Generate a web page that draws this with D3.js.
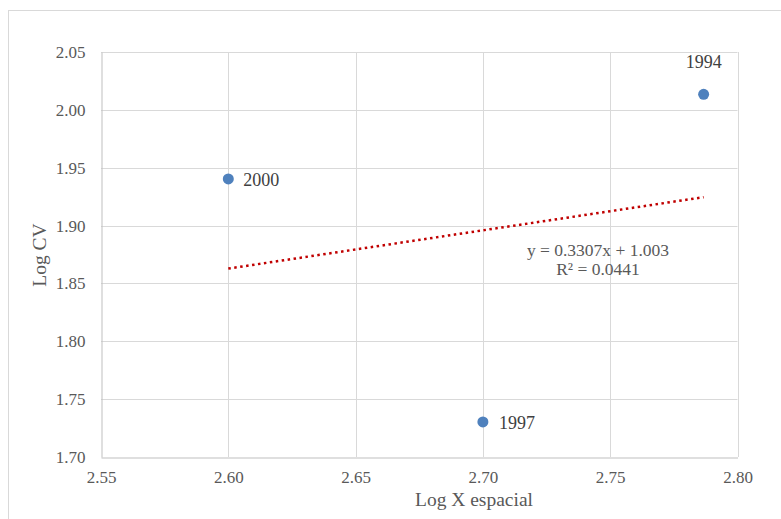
<!DOCTYPE html>
<html><head><meta charset="utf-8">
<script src="https://cdn.jsdelivr.net/npm/d3@7"></script>
<style>body{margin:0;background:#fff}svg{display:block}svg text{font-family:'Liberation Serif','Times New Roman',serif}</style>
</head><body>
<script>
const years = ["1994", "2000", "1997"];
const logX = [2.7867, 2.600, 2.700];
const logCV = [2.0134, 1.9403, 1.7303];
const xTicks = [2.55, 2.60, 2.65, 2.70, 2.75, 2.80];
const yTicks = [1.70, 1.75, 1.80, 1.85, 1.90, 1.95, 2.00, 2.05];
const trendSlope = 0.3307, trendIntercept = 1.003;
const eqLines = ["y = 0.3307x + 1.003", "R² = 0.0441"];

const W = 781, H = 519;
const svg = d3.select("body").append("svg").attr("width", W).attr("height", H);
const font = "'Liberation Serif','Times New Roman',serif";

svg.append("rect").attr("x", 8.5).attr("y", 10.5).attr("width", 800).attr("height", 600)
  .attr("fill", "#fff").attr("stroke", "#d9d9d9");

const x = d3.scaleLinear().domain([2.55, 2.80]).range([101, 737.5]);
const y = d3.scaleLinear().domain([1.70, 2.05]).range([457, 52]);

// gridlines
svg.append("g").selectAll("line").data(xTicks.slice(1)).join("line")
  .attr("x1", d => Math.round(x(d)) + 0.5).attr("x2", d => Math.round(x(d)) + 0.5)
  .attr("y1", y(2.05)).attr("y2", y(1.70)).attr("stroke", "#d9d9d9");
svg.append("g").selectAll("line").data(yTicks.slice(1)).join("line")
  .attr("y1", d => Math.round(y(d)) + 0.5).attr("y2", d => Math.round(y(d)) + 0.5)
  .attr("x1", x(2.55)).attr("x2", x(2.80)).attr("stroke", "#d9d9d9");

// axes
const xAxis = d3.axisBottom(x).tickValues(xTicks).tickFormat(d3.format(".2f")).tickSize(0).tickPadding(13);
const gx = svg.append("g").attr("transform", `translate(0,${Math.round(y(1.70)) + 0.5})`).call(xAxis)
  .attr("font-family", font);
gx.select(".domain").attr("stroke", "#bfbfbf");
gx.selectAll("text").style("font-family", font).attr("font-size", 17).attr("fill", "#595959");

const yAxis = d3.axisLeft(y).tickValues(yTicks).tickFormat(d3.format(".2f")).tickSize(0).tickPadding(16);
const gy = svg.append("g").attr("transform", `translate(${Math.round(x(2.55)) + 0.5},0)`).call(yAxis)
  .attr("font-family", font);
gy.select(".domain").attr("stroke", "#bfbfbf");
gy.selectAll("text").style("font-family", font).attr("font-size", 17).attr("fill", "#595959");

// axis titles
svg.append("text").attr("x", 474).attr("y", 506).attr("text-anchor", "middle")
  .style("font-family", font).attr("font-size", 19.5).attr("fill", "#595959").text("Log X espacial");
svg.append("text").attr("transform", "translate(46,255) rotate(-90)").attr("text-anchor", "middle")
  .style("font-family", font).attr("font-size", 19.5).attr("fill", "#595959").text("Log CV");

// trendline
const tx0 = d3.min(logX), tx1 = d3.max(logX);
svg.append("line")
  .attr("x1", x(tx0)).attr("y1", y(trendSlope * tx0 + trendIntercept))
  .attr("x2", x(tx1)).attr("y2", y(trendSlope * tx1 + trendIntercept))
  .attr("stroke", "#c00000").attr("stroke-width", 2.5).attr("stroke-dasharray", "2.5,3.5");

// points
const pts = years.map((yr, i) => ({yr, x: logX[i], y: logCV[i]}));
svg.append("g").selectAll("circle").data(pts).join("circle")
  .attr("cx", d => x(d.x)).attr("cy", d => y(d.y)).attr("r", 5.5).attr("fill", "#4f81bd");

// labels
const labelPos = {"1994": [0, -26, "middle"], "2000": [15, 7, "start"], "1997": [16, 7, "start"]};
svg.append("g").selectAll("text").data(pts).join("text")
  .attr("x", d => x(d.x) + labelPos[d.yr][0]).attr("y", d => y(d.y) + labelPos[d.yr][1])
  .attr("text-anchor", d => labelPos[d.yr][2])
  .style("font-family", font).attr("font-size", 18).attr("fill", "#404040").text(d => d.yr);

// equation
svg.append("g").selectAll("text").data(eqLines).join("text")
  .attr("x", 598).attr("y", (d, i) => 256 + i * 19).attr("text-anchor", "middle")
  .style("font-family", font).attr("font-size", 17.5).attr("fill", "#595959").text(d => d);
</script>
</body></html>
